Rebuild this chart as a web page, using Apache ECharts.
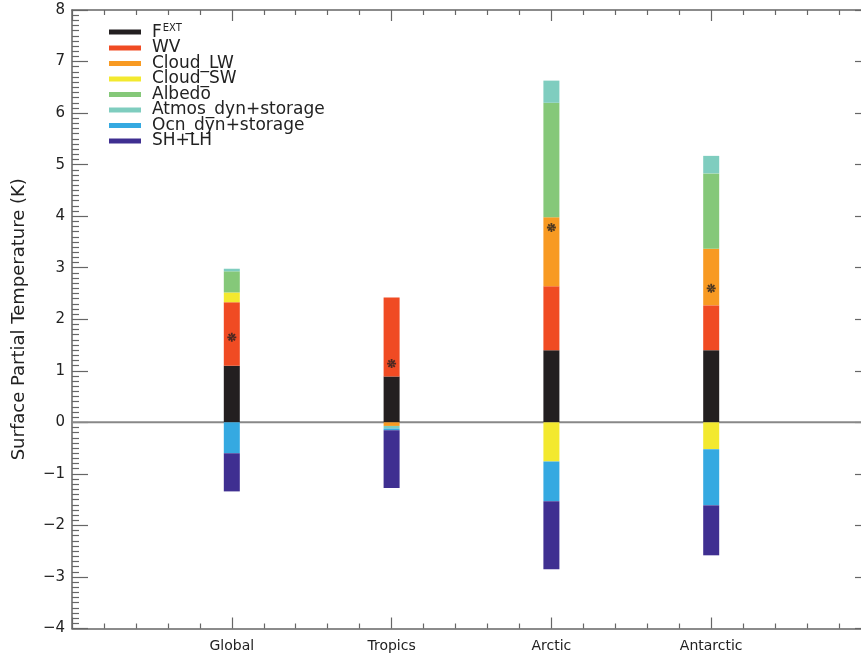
<!DOCTYPE html>
<html>
<head>
<meta charset="utf-8">
<script src="https://cdn.jsdelivr.net/npm/echarts@6/dist/echarts.min.js"></script>
<style>
html,body{margin:0;padding:0;background:#fff;}
#c{width:861px;height:655px;}
</style>
</head>
<body>
<div id="c"></div>
<script>
// ---- data ----
const categories = ['Global', 'Tropics', 'Arctic', 'Antarctic'];
const seriesNames = ['FEXT', 'WV', 'Cloud_LW', 'Cloud_SW', 'Albedo', 'Atmos_dyn+storage', 'Ocn_dyn+storage', 'SH+LH'];
const fext      = [1.10, 0.89, 1.40, 1.40];
const wv        = [1.23, 1.53, 1.24, 0.87];
const cloudLW   = [0.00, -0.07, 1.34, 1.10];
const cloudSW   = [0.19, 0.00, -0.76, -0.52];
const albedo    = [0.41, 0.00, 2.22, 1.46];
const atmosDyn  = [0.05, -0.05, 0.43, 0.34];
const ocnDyn    = [-0.60, -0.035, -0.77, -1.09];
const shlh      = [-0.74, -1.12, -1.32, -0.97];
const netTotal  = [1.65, 1.14, 3.78, 2.60];
const yTicks = [-4, -3, -2, -1, 0, 1, 2, 3, 4, 5, 6, 7, 8];

const colors = ['#231f20', '#f04b23', '#f89a22', '#f3e92f', '#85c879', '#7fcdbf', '#35a9e1', '#3f2f91'];
const values = [fext, wv, cloudLW, cloudSW, albedo, atmosDyn, ocnDyn, shlh];

const FONT = 'DejaVu Sans';
const TXT = '#222';
const AX = '#666';

// padded category slots: empty slot on each side of the four regions
const slots = [''].concat(categories).concat(['']);
const pad = arr => ['-'].concat(arr).concat(['-']);

const chart = echarts.init(document.getElementById('c'), null, {renderer: 'canvas'});

const barSeries = seriesNames.map((n, i) => ({
  name: n,
  type: 'bar',
  stack: 'total',
  xAxisIndex: 0,
  barWidth: 16,
  z: 3,
  itemStyle: {color: colors[i]},
  data: pad(values[i])
}));

const starPath = 'path://M-1,-0.2L1,-0.2L1,0.2L-1,0.2Z M-0.2,-1L0.2,-1L0.2,1L-0.2,1Z M-0.85,-0.57L0.57,0.85L0.85,0.57L-0.57,-0.85Z M0.57,-0.85L0.85,-0.57L-0.57,0.85L-0.85,0.57Z';

const tickAxis = (pos) => ({
  type: 'value', min: 0, max: 5, interval: 1, position: pos,
  axisLine: {show: true, onZero: false, lineStyle: {color: AX, width: 1.5}},
  axisTick: {show: true, inside: true, length: 11, lineStyle: {color: AX, width: 1.2}},
  minorTick: {show: true, splitNumber: 5, length: 5, lineStyle: {color: AX, width: 1.2}},
  splitLine: {show: false},
  axisLabel: {show: false}
});

const option = {
  animation: false,
  backgroundColor: '#fff',
  grid: {left: 72, right: -10, top: 10, bottom: 26.5, containLabel: false, outerBoundsMode: 'none'},
  legend: {
    orient: 'vertical',
    left: 104, top: 18,
    itemWidth: 32, itemHeight: 5, itemGap: -1.5,
    icon: 'rect',
    data: seriesNames,
    selectedMode: false,
    formatter: function (name) { return name === 'FEXT' ? '{f|F}{s|EXT}' : name; },
    textStyle: {
      fontFamily: FONT, fontSize: 17, color: TXT,
      padding: [0, 0, 0, 6],
      rich: {
        f: {fontFamily: FONT, fontSize: 17, color: TXT, verticalAlign: 'bottom'},
        s: {fontFamily: FONT, fontSize: 10, color: TXT, verticalAlign: 'bottom', padding: [0, 0, 8, 1]}
      }
    }
  },
  xAxis: [{
    type: 'category', data: slots, boundaryGap: false,
    axisLine: {show: false, onZero: false},
    axisTick: {show: false},
    splitLine: {show: false},
    axisLabel: {margin: 11, fontFamily: FONT, fontSize: 14, color: TXT, interval: 0}
  }, tickAxis('bottom'), tickAxis('top')],
  yAxis: [{
    type: 'value', min: yTicks[0], max: yTicks[yTicks.length - 1], interval: 1,
    name: 'Surface Partial Temperature (K)',
    nameLocation: 'middle', nameRotate: 90, nameGap: 44,
    nameTextStyle: {fontFamily: FONT, fontSize: 18, color: TXT},
    axisLine: {show: true, onZero: false, lineStyle: {color: AX, width: 1.5}},
    axisTick: {show: true, inside: true, length: 16, lineStyle: {color: AX, width: 1.2}},
    minorTick: {show: true, splitNumber: 10, length: 7, lineStyle: {color: AX, width: 1.2}},
    splitLine: {show: false},
    axisLabel: {margin: 7, fontFamily: FONT, fontSize: 15, color: TXT,
      formatter: function (v) { return v < 0 ? '\u2212' + Math.abs(v) : String(v); }}
  }, {
    type: 'value', min: yTicks[0], max: yTicks[yTicks.length - 1], interval: 1, position: 'right',
    axisLine: {show: true, onZero: false, lineStyle: {color: AX, width: 1.5}},
    axisTick: {show: true, inside: true, length: 16, lineStyle: {color: AX, width: 1.2}},
    minorTick: {show: true, splitNumber: 10, length: 7, lineStyle: {color: AX, width: 1.2}},
    splitLine: {show: false},
    axisLabel: {show: false}
  }],
  series: [{
    name: 'zero', type: 'line', z: 1, symbol: 'none', silent: true, xAxisIndex: 1,
    lineStyle: {color: '#888', width: 2},
    data: [[0, 0], [5, 0]]
  }].concat(barSeries).concat([{
    name: 'net', type: 'scatter', z: 5, xAxisIndex: 0,
    symbol: starPath, symbolSize: 9,
    itemStyle: {color: '#231f20'},
    data: pad(netTotal)
  }])
};
chart.setOption(option);
</script>
</body>
</html>
